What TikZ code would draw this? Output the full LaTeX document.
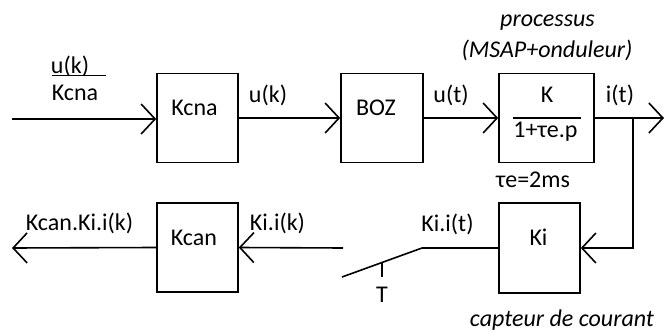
\documentclass[tikz,border=0pt]{standalone}
\usepackage{fontspec}
\setmainfont{Carlito}
\usetikzlibrary{arrows.meta}
\tikzset{
  blk/.style={draw, line width=1.6pt, minimum width=81pt, minimum height=89pt, inner sep=0pt},
  lbl/.style={inner sep=0pt, anchor=base, font=\fontsize{24}{28}\selectfont},
  ilbl/.style={lbl, font=\fontsize{24}{28}\selectfont\itshape},
  wire/.style={line width=1.6pt},
  arr/.style={wire, -{Straight Barb[length=14pt,width=30pt,line width=1.6pt]}},
}
\begin{document}
\begin{tikzpicture}[x=1pt,y=-1pt]
\useasboundingbox (0,0) rectangle (665,332);
% blocks
\node[blk] (kcna) at (197.5,118) {};
\node[lbl] (kcnat) at (194.5,115) {Kcna};
\node[blk, minimum width=82pt] (boz) at (382,118) {};
\node[lbl] (bozt) at (376,115) {BOZ};
\node[blk, minimum width=95pt] (proc) at (546.5,118) {};
\node[lbl] (kt) at (547,102) {K};
\node[lbl] (den) at (545.5,137) {1+τe.p};
\coordinate (fl) at (513,118);
\coordinate (fr) at (581,118);
\draw[wire] (fl) -- (fr);
\node[blk, minimum height=90pt] (ki) at (539.5,248) {};
\node[lbl] (kit) at (538.5,245) {Ki};
\node[blk] (kcan) at (197.5,247.5) {};
\node[lbl] (kcant) at (194,245) {Kcan};
% input
\coordinate (in) at (12,119);
\draw[arr] (in) -- (kcna.west |- in);
\node[lbl] (uk1) at (70,73) {u(k)};
\coordinate (ul) at (52,75.5);
\coordinate (ur) at (106,75.5);
\draw[line width=1.4pt] (ul) -- (ur);
\node[lbl] (kc1) at (75,100) {Kcna};
% forward path
\draw[arr] (kcna.east) -- (boz.west);
\node[lbl] (uk2) at (268,102) {u(k)};
\draw[arr] (boz.east) -- (proc.west);
\node[lbl] (ut) at (451,102) {u(t)};
\coordinate (out) at (664,118);
\coordinate (br) at (633,118);
\draw[arr] (proc.east) -- (out);
\node[lbl] (it) at (620,102) {i(t)};
\node[ilbl] (p1) at (547.5,27) {processus};
\node[ilbl] (p2) at (547,57) {(MSAP+onduleur)};
\node[lbl] (tau) at (533,187) {τe=2ms};
% feedback
\draw[arr] (br) |- (ki.east);
\node[ilbl] (cap) at (562,326) {capteur de courant};
\coordinate (sw1) at (422,248);
\coordinate (sw2) at (342,277);
\coordinate (sw3) at (343,248);
\draw[wire] (ki.west) -- (sw1);
\draw[wire] (sw1) -- (sw2);
\coordinate (tk1) at (382,262.5);
\coordinate (tk2) at (382,277);
\draw[wire] (tk1) -- (tk2);
\node[lbl] (tt) at (382,302) {T};
\node[lbl] (kiit) at (447.5,231) {Ki.i(t)};
\draw[arr] (sw3) -- (kcan.east);
\node[lbl] (kiik) at (277.5,230) {Ki.i(k)};
\coordinate (outb) at (12,248);
\draw[arr] (kcan.west) -- (outb);
\node[lbl] (kk) at (79.5,230) {Kcan.Ki.i(k)};
\end{tikzpicture}
\end{document}
